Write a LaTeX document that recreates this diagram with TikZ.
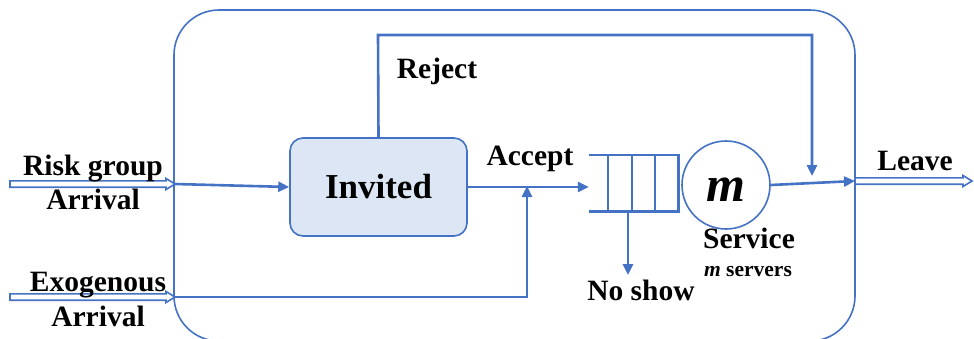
\documentclass[tikz,border=0pt]{standalone}
\usepackage{fontspec}
\setmainfont{Liberation Serif}
\usetikzlibrary{arrows.meta,calc}
\definecolor{flowblue}{HTML}{4472C4}
\definecolor{boxfill}{HTML}{DCE6F4}
\tikzset{
  flow/.style={draw=flowblue, line width=2.6pt, -{Triangle[length=11pt,width=10pt]}},
  plain/.style={draw=flowblue, line width=2.6pt},
  lbl/.style={font=\bfseries\fontsize{29.5}{32}\selectfont, inner sep=0pt, anchor=base},
  small/.style={font=\bfseries\fontsize{21.5}{24}\selectfont, inner sep=0pt, anchor=base},
  hollow/.style={draw=flowblue, line width=1.6pt, fill=white, line join=miter},
}
\begin{document}
\begin{tikzpicture}[x=1pt,y=-1pt]
\useasboundingbox (0,0) rectangle (974,338);
\begin{scope}
\clip (0,0) rectangle (974,338);
% system boundary
\draw[flowblue, line width=1.6pt, rounded corners=45pt] (174,10) rectangle (855,341);
\end{scope}

% nodes
\node[draw=flowblue, fill=boxfill, line width=1.6pt, rounded corners=13pt,
      minimum width=177pt, minimum height=98pt,
      font=\bfseries\fontsize{35}{38}\selectfont] (invited) at (378.5,187) {Invited};
\node[minimum width=89pt, minimum height=56pt, inner sep=0pt] (queue) at (633.5,183) {};
\node[draw=flowblue, line width=1.6pt, circle, minimum size=88pt, inner sep=0pt] (server) at (726,185) {};
\node[font=\bfseries\itshape\fontsize{50}{52}\selectfont, inner sep=0pt, anchor=base] (mlab) at (726,201) {m};

% queue buffer
\draw[plain] (queue.north west) -- (queue.north east) -- (queue.south east) -- (queue.south west);
\foreach \xx in {608,632,655}
  \draw[plain] (\xx,155) -- (\xx,211);

% free ends
\coordinate (riskin) at (10,184);
\coordinate (riskb) at (175,184);
\coordinate (exoin) at (10,297);
\coordinate (exob) at (175,297);
\coordinate (join) at (527,186);
\coordinate (outb) at (855,181);
\coordinate (outend) at (972,181);
\coordinate (rejtop) at (378,35);
\coordinate (rejend) at (812,176);
\coordinate (noshow) at (628,275);

% hollow entry / exit arrows
\foreach \s/\e in {riskin/riskb, exoin/exob, outb/outend}{
  \draw[hollow] let \p1=(\s), \p2=(\e) in
    (\x1,\y1-3.2) -- (\x2-9,\y2-3.2) -- (\x2-9,\y2-5.5) -- (\x2,\y2) --
    (\x2-9,\y2+5.5) -- (\x2-9,\y2+3.2) -- (\x1,\y1+3.2) -- cycle;
}

% connectors
\draw[flow] (riskb) -- (invited.west);
\draw[flow] (invited.east) -- (invited.east -| queue.west);
\draw[flow] (exob) -| (join);
\draw[flow] (invited.north) -- (rejtop) -| (rejend);
\draw[flow] (queue.south -| 628,0) -- (noshow);
\draw[flow] (server.east) -- (outb);

% labels
\node[lbl] at (93,175) {Risk group};
\node[lbl] at (93,209) {Arrival};
\node[lbl] at (98,291) {Exogenous};
\node[lbl] at (98,326) {Arrival};
\node[lbl] at (437,78) {Reject};
\node[lbl] at (530,165) {Accept};
\node[lbl] at (641,300) {No show};
\node[lbl] at (749,248) {Service};
\node[small] at (748,276) {\textit{m} servers};
\node[lbl] at (915,170) {Leave};
\end{tikzpicture}
\end{document}
